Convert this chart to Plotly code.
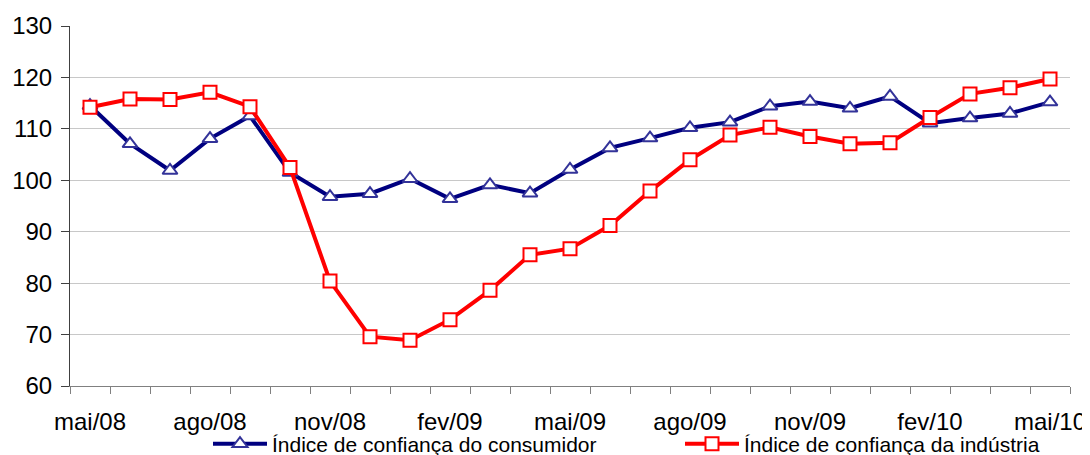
import plotly.graph_objects as go

months = ["mai/08", "jun/08", "jul/08", "ago/08", "set/08", "out/08", "nov/08", "dez/08",
          "jan/09", "fev/09", "mar/09", "abr/09", "mai/09", "jun/09", "jul/09", "ago/09",
          "set/09", "out/09", "nov/09", "dez/09", "jan/10", "fev/10", "mar/10", "abr/10", "mai/10"]

consumidor = [114.5, 107.1, 101.9, 108.1, 112.5, 101.5, 96.8, 97.4, 100.3, 96.4, 99.1, 97.5,
              102.1, 106.3, 108.2, 110.2, 111.3, 114.4, 115.3, 114.0, 116.3, 111.1, 112.1, 113.0, 115.2]

industria = [114.2, 115.8, 115.7, 117.1, 114.3, 102.5, 80.4, 69.6, 68.9, 72.9, 78.6, 85.5,
             86.7, 91.2, 97.9, 104.0, 108.8, 110.3, 108.5, 107.1, 107.3, 112.2, 116.8, 118.0, 119.7]

y_ticks = [60, 70, 80, 90, 100, 110, 120, 130]

x_idx = list(range(len(months)))
label_idx = x_idx[::3]
label_txt = months[::3]
boundaries = [i - 0.5 for i in range(len(months) + 1)]

FONT = "Liberation Sans, Arial, sans-serif"

# page body has an 8px margin; size the figure so it fits the 1090x455 window
W, H = 1082, 447
OFF = 8
LEG_Y = 444

fig = go.Figure()
fig.add_trace(go.Scatter(
    x=x_idx, y=consumidor, mode="lines+markers",
    name="Índice de confiança do consumidor",
    line=dict(color="#000080", width=4),
    marker=dict(symbol="triangle-up", size=13, color="white",
                line=dict(color="#333399", width=2)),
    legend="legend",
))
fig.add_trace(go.Scatter(
    x=x_idx, y=industria, mode="lines+markers",
    name="Índice de confiança da indústria",
    line=dict(color="#FF0000", width=4),
    marker=dict(symbol="square", size=13, color="white",
                line=dict(color="#FF0000", width=2)),
    legend="legend2",
))
# invisible trace to activate the boundary tick axis
fig.add_trace(go.Scatter(x=[x_idx[0]], y=[y_ticks[0]], xaxis="x2", mode="markers",
                         marker=dict(opacity=0), showlegend=False, hoverinfo="skip"))

fig.update_layout(
    width=W, height=H,
    margin=dict(l=70 - OFF, r=W - (1070 - OFF), t=26 - OFF, b=H - (386 - OFF), autoexpand=False),
    paper_bgcolor="white", plot_bgcolor="white",
    font=dict(family=FONT, color="black"),
    showlegend=True,
    legend=dict(x=(208 - OFF) / W, y=(H - (LEG_Y - OFF)) / H, xref="container", yref="container",
                xanchor="left", yanchor="middle", itemwidth=54,
                orientation="h", font=dict(size=21, family=FONT),
                bgcolor="rgba(0,0,0,0)"),
    legend2=dict(x=(680 - OFF) / W, y=(H - (LEG_Y - OFF)) / H, xref="container", yref="container",
                 xanchor="left", yanchor="middle", itemwidth=54,
                 orientation="h", font=dict(size=21, family=FONT),
                 bgcolor="rgba(0,0,0,0)"),
    xaxis2=dict(overlaying="x", matches="x", side="bottom",
                tickmode="array", tickvals=boundaries, showticklabels=False,
                ticks="outside", ticklen=7, tickcolor="#808080", tickwidth=1,
                showgrid=False, zeroline=False, showline=False),
)

fig.layout.xaxis.update(
    range=[-0.5, len(months) - 0.5],
    tickmode="array", tickvals=label_idx, ticktext=label_txt,
    ticks="", showgrid=False, zeroline=False,
    showline=True, linecolor="#808080", linewidth=1,
    tickfont=dict(size=24, family=FONT, color="black"),
    ticklabelstandoff=14,
)

fig.update_yaxes(
    range=[60, 130],
    tickmode="array", tickvals=y_ticks,
    ticks="outside", ticklen=8, tickcolor="#404040", tickwidth=1,
    showgrid=True, gridcolor="#C8C8C8", gridwidth=1,
    zeroline=False,
    showline=True, linecolor="#404040", linewidth=1,
    tickfont=dict(size=24, family=FONT, color="black"),
    ticklabelstandoff=4,
)

fig.write_html("out.html")
